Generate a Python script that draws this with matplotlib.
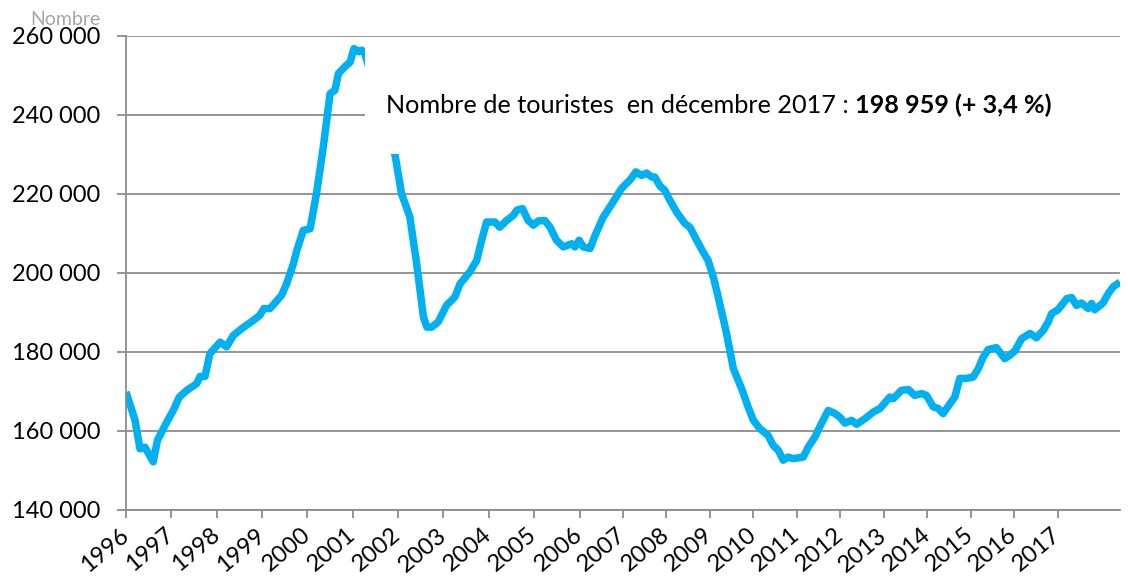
#!/usr/bin/env python3
"""Nombre de touristes (cumul 12 mois), janvier 1996 - décembre 2017."""
import matplotlib
matplotlib.use('Agg')
import matplotlib.pyplot as plt
from matplotlib.patches import Rectangle
from matplotlib.ticker import FuncFormatter

# month index (0 = janvier 1996)
mois = [
    0, 2.4, 3.7, 5.0, 7.2, 8.3, 10.8, 12.5, 14.1, 16.1, 18.7, 19.6, 20.9,
    22.2, 24.9, 26.6, 28.4, 31.0, 33.7, 35.4, 36.5, 38.1, 41.2, 42.5, 44.3,
    45.2, 46.9, 48.7, 50.4, 52.2, 54.0, 55.3, 56.2, 57.9, 59.3, 60.3, 61.5,
    62.4, 63.2,
    71.2, 72.9, 75.1, 76.9, 78.7, 79.6, 80.9, 82.6, 84.8, 87.0, 88.4, 91.0,
    92.8, 94.1, 95.4, 97.6, 98.9, 100.7, 102.5, 103.4, 104.9, 106.4, 107.8,
    109.1, 110.8, 112.2, 113.9, 115.7, 117.9, 118.8, 119.9, 121.0, 122.8,
    124.1, 126.3, 128.9, 131.1, 133.3, 134.9, 136.4, 137.7, 139.1, 139.9,
    141.3, 142.6, 143.9, 145.7, 147.9, 149.2, 151.0, 152.7, 154.0,
    155.4, 156.7, 158.9, 160.7, 162.9, 164.6, 166.0, 167.7, 169.9, 171.2,
    172.6, 173.9, 175.2, 176.5, 179.2, 180.5, 182.3, 184.0, 185.8, 187.6,
    188.9, 190.2, 192.0, 193.3, 195.5, 197.7, 199.5, 202.1, 203.0, 205.2,
    207.0, 208.7, 210.5, 211.8, 213.6, 214.9, 216.2, 218.0, 219.3, 220.6,
    222.4, 224.2, 225.5, 226.8, 228.1, 230.3, 232.5, 233.9, 235.2, 237.0,
    239.2, 240.9, 242.7, 244.0, 244.9, 246.6, 248.9, 250.2, 251.5, 252.8,
    254.6, 255.5, 256.3, 258.5, 259.9, 261.2, 263,
]
touristes = [
    169900, 162700, 155500, 155900, 152200, 157600, 162300, 165200, 168600,
    170300, 172000, 173800, 173800, 179600, 182500, 181300, 184200, 186200,
    188000, 189300, 191000, 191000, 194400, 197300, 202400, 205700, 210800,
    211200, 220100, 231900, 245400, 246300, 250500, 252200, 253400, 256800,
    256000, 256400, 255500,
    229800, 220100, 214200, 202400, 188900, 186300, 186300, 187600, 191800,
    193900, 197300, 200300, 203200, 208300, 212900, 212900, 211600, 213300,
    214600, 215900, 216300, 213300, 212100, 213200, 213300, 211600, 208300,
    206600, 207400, 206600, 208300, 206600, 206200, 209500, 214200, 218000,
    221400, 223500, 225600, 224700, 225300, 224300, 224300, 222000, 220900,
    218400, 215400, 212500, 211600, 208300, 205300, 203200,
    199000, 193900, 184700, 175800, 170700, 166100, 162700, 160600, 158900,
    156400, 155100, 152600, 153400, 153000, 153400, 155900, 158500, 161900,
    165200, 164400, 163500, 162000, 162700, 161700, 163100, 164800, 165700,
    168600, 168200, 170300, 170500, 169000, 169500, 169000, 166100, 165700,
    164400, 166900, 168600, 173300, 173300, 173700, 175800, 178700, 180600,
    181100, 178300, 179200, 180300, 183400, 184700, 183600, 185500, 187600,
    189700, 190700, 193500, 193800, 191800, 192400, 191000, 192300, 190700,
    192400, 194800, 196500, 197700,
]
assert len(mois) == len(touristes)

annees = [str(a) for a in range(1996, 2018)]
# Excel spaced the year labels 12 months apart up to 2006, then 11.5
tick_pos = [12 * i for i in range(11)] + [120 + 11.5 * k for k in range(1, 12)]

LINE = '#00B0F0'
GRID = '#8C8C8C'
FONT = 'Lato'

plt.rcParams['font.family'] = [FONT, 'DejaVu Sans']

fig = plt.figure(figsize=(11.28, 5.79), dpi=100)
ax = fig.add_axes([126 / 1128, 69 / 579, 994 / 1128, 474 / 579])

ax.plot(mois, touristes, color=LINE, linewidth=5.4, solid_capstyle='butt',
        solid_joinstyle='round', zorder=2)

ax.set_xlim(0, 263)
ax.set_ylim(140000, 260000)
ax.set_yticks(range(140000, 260001, 20000))
ax.yaxis.set_major_formatter(
    FuncFormatter(lambda v, _: f"{int(v):,}".replace(',', ' ')))
ax.set_xticks(tick_pos)
ax.set_xticklabels(annees, rotation=40, ha='right', va='center',
                   rotation_mode='anchor')

ax.grid(axis='y', color=GRID, linewidth=1.3, zorder=0)
ax.set_axisbelow(True)
for side in ('top', 'right'):
    ax.spines[side].set_visible(False)
for side in ('left', 'bottom'):
    ax.spines[side].set_color(GRID)
    ax.spines[side].set_linewidth(1.3)
ax.tick_params(axis='y', length=6.5, width=1.3, color=GRID, pad=12,
               labelsize=17, labelcolor='black')
ax.tick_params(axis='x', length=6, width=1.3, color=GRID, pad=10,
               labelsize=17, labelcolor='black')

# white box carrying the annotation (hides part of the curve)
ax.add_patch(Rectangle((0.2404, 0.751), 0.7596, 0.236, transform=ax.transAxes,
                       facecolor='white', edgecolor='none', zorder=3))
t1 = ax.text(0.2616, 0.838, 'Nombre de touristes  en décembre 2017 : ',
             transform=ax.transAxes, fontsize=18.2, va='baseline', zorder=4)
ax.annotate('198 959 (+ 3,4 %)', xy=(1, 0), xycoords=t1, va='bottom',
            fontsize=18.2, fontweight='bold', zorder=4)

fig.text(30 / 1128, (579 - 25) / 579, 'Nombre', color='#A6A6A6',
         fontsize=14, va='baseline')

fig.savefig('out.png', dpi=100)
